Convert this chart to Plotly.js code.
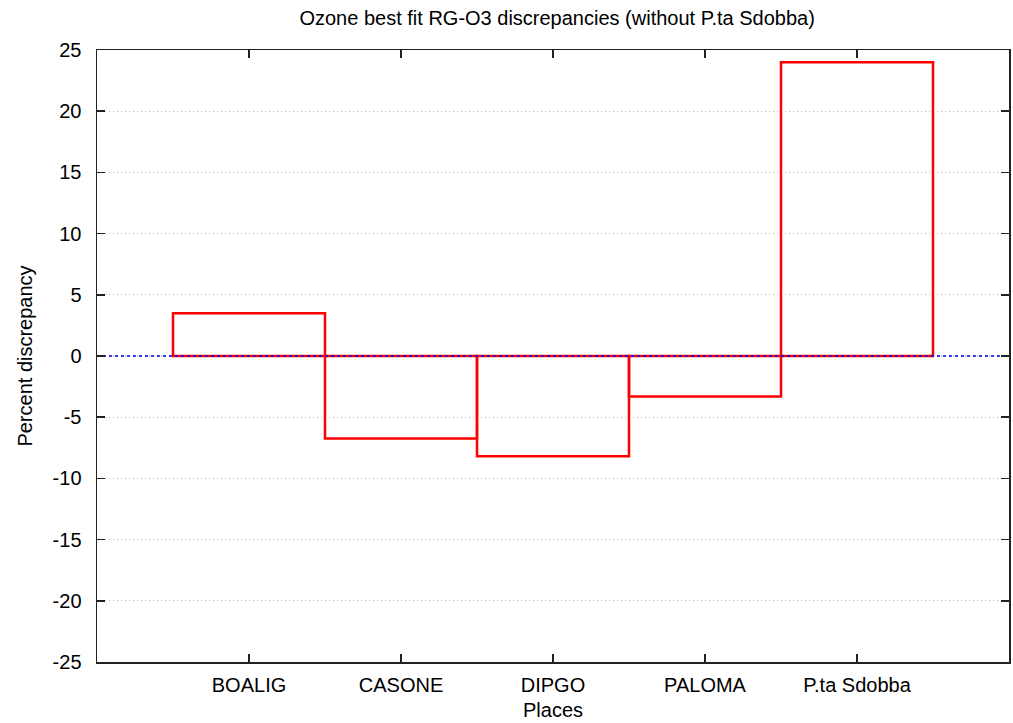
<!DOCTYPE html>
<html>
<head>
<meta charset="utf-8">
<script src="https://cdn.plot.ly/plotly-3.0.1.min.js"></script>
<style>html,body{margin:0;padding:0;background:#fff;}#chart{width:1013px;height:723px;}</style>
</head>
<body>
<div id="chart"></div>
<script>
var places = ["BOALIG", "CASONE", "DIPGO", "PALOMA", "P.ta Sdobba"];
var discrepancy = [3.5, -6.75, -8.2, -3.3, 24.0];
var yTicks = [-25, -20, -15, -10, -5, 0, 5, 10, 15, 20, 25];

var font = {family: "Liberation Sans, Arial, sans-serif", size: 20, color: "#000"};

var bars = {
  type: "bar",
  x: places,
  y: discrepancy,
  width: 1,
  marker: {color: "rgba(0,0,0,0)", line: {color: "#ff0000", width: 2.5}},
  hoverinfo: "x+y",
  showlegend: false
};

var zero = {
  type: "scatter",
  mode: "lines",
  xaxis: "x2",
  x: [0, 1],
  y: [0, 0],
  line: {color: "#0000ff", width: 1.5, dash: "3px,3px"},
  showlegend: false,
  hoverinfo: "skip"
};

var layout = {
  width: 1013,
  height: 723,
  margin: {l: 97, r: 4, t: 50, b: 61},
  paper_bgcolor: "#fff",
  plot_bgcolor: "#fff",
  font: font,
  title: {text: "Ozone best fit RG-O3 discrepancies (without P.ta Sdobba)", font: {family: font.family, size: 20, color: "#000"}, x: 0.55, xanchor: "center", y: 0.975, yanchor: "middle"},
  xaxis: {
    type: "category",
    range: [-1, 5],
    showgrid: false,
    zeroline: false,
    showline: true,
    linecolor: "#222",
    linewidth: 1.5,
    mirror: "ticks",
    ticks: "inside",
    ticklen: 8,
    tickcolor: "#222",
    tickwidth: 1.5,
    tickfont: font,
    ticklabelstandoff: 4,
    title: {text: "Places", font: font, standoff: 8}
  },
  xaxis2: {
    overlaying: "x",
    range: [0, 1],
    visible: false,
    fixedrange: true
  },
  yaxis: {
    range: [-25, 25],
    tickvals: yTicks,
    ticktext: yTicks.map(String),
    showgrid: true,
    gridcolor: "#b8b8b8",
    griddash: "1px,3px",
    gridwidth: 1.2,
    zeroline: false,
    showline: true,
    linecolor: "#222",
    linewidth: 1.5,
    mirror: "ticks",
    ticks: "inside",
    ticklen: 8,
    tickcolor: "#222",
    tickwidth: 1.5,
    tickfont: font,
    ticklabelstandoff: 10,
    title: {text: "Percent discrepancy", font: font, standoff: 14}
  },
  bargap: 0
};

Plotly.newPlot("chart", [bars, zero], layout, {displayModeBar: false, staticPlot: true});
</script>
</body>
</html>
